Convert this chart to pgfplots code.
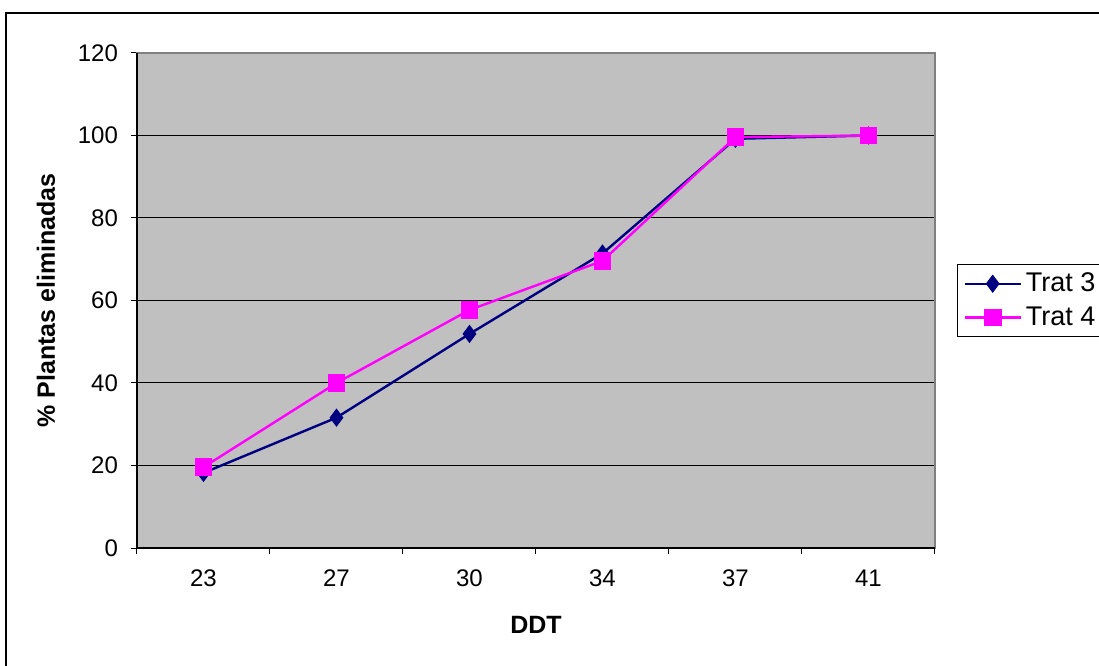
\documentclass[border=0pt]{standalone}
\usepackage{pgfplots}
\pgfplotsset{compat=1.18}
\usepackage{fontspec}
\setmainfont{Liberation Sans}
\definecolor{navyT}{RGB}{0,0,128}
\definecolor{magT}{RGB}{255,0,255}
\definecolor{plotgray}{RGB}{192,192,192}
\begin{document}
\begin{tikzpicture}
\useasboundingbox (0,0) rectangle (549.5pt,332.5pt);
\fill[white] (0,0) rectangle (549.5pt,332.5pt);
\draw[line width=0.8pt,black] (3pt,-2pt) -- (3pt,326pt) -- (552pt,326pt);
\begin{axis}[
  at={(68.5pt,58.5pt)}, anchor=south west,
  scale only axis, width=399pt, height=247.5pt,
  xmin=-0.5, xmax=5.5, ymin=0, ymax=120,
  axis background/.style={fill=plotgray},
  axis line style={draw=gray, line width=0.6pt},
  xtick pos=bottom, ytick pos=left,
  xtick={0,1,2,3,4,5},
  xticklabels={23,27,30,34,37,41},
  major x tick style={draw=none},
  minor xtick={-0.5,0.5,1.5,2.5,3.5,4.5,5.5},
  minor tick length=3pt,
  minor x tick style={black, line width=0.5pt},
  ytick={0,20,40,60,80,100,120},
  major tick length=3pt,
  tick align=outside,
  y tick style={black, line width=0.5pt},
  ymajorgrids,
  major grid style={black, line width=0.5pt},
  tick label style={font=\fontsize{12}{14}\selectfont},
  xticklabel style={yshift=-4.5pt},
  yticklabel style={xshift=-3pt},
  /pgf/number format/assume math mode=true,
  xlabel={\textbf{DDT}},
  ylabel={\textbf{\% Plantas eliminadas}},
  label style={font=\fontsize{12.5}{14}\selectfont},
  xlabel style={yshift=-8pt},
  ylabel style={yshift=4.5pt},
  legend image code/.code={
    \draw[mark repeat=2,mark phase=2,#1] plot coordinates {(0pt,0pt) (14pt,0pt) (28pt,0pt)};
  },
  legend style={at={(1.0276,0.5)}, anchor=west, draw=black, line width=0.5pt,
    font=\fontsize{13.5}{15}\selectfont, inner xsep=3pt, inner ysep=2pt, row sep=2pt,
    /tikz/every even column/.append style={column sep=1pt}},
  legend cell align=left,
  clip=false,
]
\draw[black, line width=0.8pt] (rel axis cs:0,1) -- (rel axis cs:0,0) -- (rel axis cs:1,0);
\addplot[navyT, line width=1.2pt, mark=diamond*, mark size=3.6pt, mark options={fill=navyT, draw=navyT}]
  coordinates {(0,18.2) (1,31.6) (2,51.9) (3,71.4) (4,99.2) (5,100)};
\addlegendentry{Trat 3}
\addplot[magT, line width=1.2pt, mark=square*, mark size=3.8pt, mark options={fill=magT, draw=magT}]
  coordinates {(0,19.6) (1,40.0) (2,57.7) (3,69.6) (4,99.6) (5,100)};
\addlegendentry{Trat 4}
\end{axis}
\end{tikzpicture}
\end{document}
